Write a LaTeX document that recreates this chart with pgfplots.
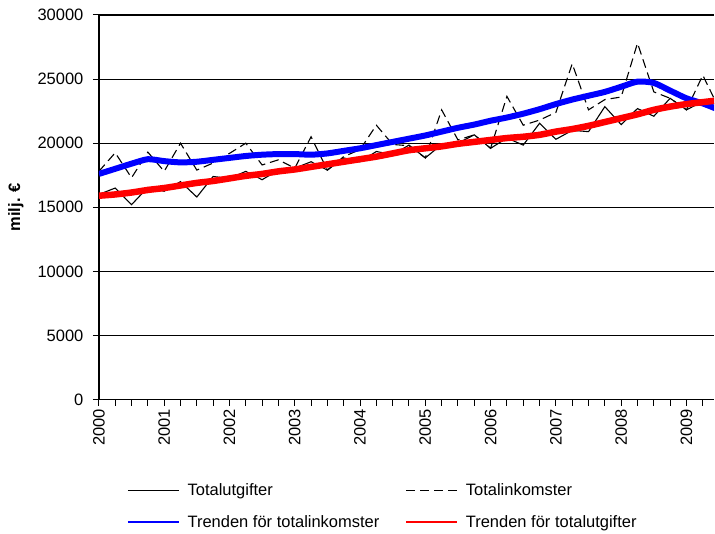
\documentclass[border=0pt]{standalone}
\usepackage{pgfplots}
\pgfplotsset{compat=1.18}
\usepackage{fontspec}
\setmainfont{Liberation Sans}
\newcommand{\chartfont}{\fontsize{16.5}{19}\selectfont}
\pgfplotsset{
  thinlegend/.style={legend image code/.code={\draw[##1, line width=#1] (0pt,0pt) -- (51pt,0pt);}},
}
\begin{document}
\begin{tikzpicture}
\begin{axis}[
  at={(0pt,0pt)}, anchor=south west,
  scale only axis, width=616pt, height=385pt,
  xmin=0, xmax=37.7, ymin=0, ymax=30000,
  axis lines*=left,
  axis line style={line width=1.6pt, black},
  xtick={0,...,38},
  xticklabels={2000,,,,2001,,,,2002,,,,2003,,,,2004,,,,2005,,,,2006,,,,2007,,,,2008,,,,2009,,,},
  ytick={0,5000,...,30000},
  tick align=outside, major tick length=6pt,
  tick style={black, line width=1pt},
  ymajorgrids, grid style={black, line width=1.1pt},
  scaled y ticks=false,
  /pgf/number format/assume math mode=true,
  yticklabel style={/pgf/number format/1000 sep={}, font=\chartfont, xshift=-6pt},
  xticklabel style={rotate=90, anchor=east, font=\chartfont},
  ylabel={\textbf{milj. €}},
  ylabel style={font=\chartfont, at={(axis description cs:-0.135,0.5)}, anchor=center},
  legend columns=2,
  legend cell align=left,
  legend style={at={(axis description cs:0.0455,-0.213)}, anchor=north west,
    draw=none, fill=none, inner sep=0pt, font=\chartfont,
    /tikz/every odd column/.append style={column sep=6pt},
    /tikz/every even column/.append style={column sep=24pt},
    row sep=14pt},
]
\addplot[black, line width=1.1pt, thinlegend=1.2pt]
table[x=i, y=v] {
i v
0 16000
1 16500
2 15200
3 16550
4 16250
5 17000
6 15800
7 17400
8 17250
9 17800
10 17150
11 17900
12 18050
13 18550
14 17900
15 18850
16 18550
17 19350
18 19100
19 19850
20 18850
21 19900
22 20000
23 20650
24 19600
25 20400
26 19850
27 21550
28 20300
29 21000
30 20900
31 22850
32 21450
33 22700
34 22100
35 23500
36 22600
37 23250
38 23000
};
\addlegendentry{Totalutgifter}
\addplot[black, line width=1.1pt, dash pattern=on 9pt off 5pt, thinlegend=1.2pt]
table[x=i, y=v] {
i v
0 17800
1 19250
2 17300
3 19300
4 17800
5 20000
6 17900
7 18450
8 19200
9 20000
10 18300
11 18700
12 18050
13 20500
14 17900
15 18950
16 19500
17 21400
18 19900
19 19800
20 18850
21 22600
22 20250
23 20650
24 19600
25 23650
26 21400
27 21800
28 22400
29 26200
30 22600
31 23400
32 23600
33 27800
34 24000
35 23500
36 22600
37 25300
38 22700
};
\addlegendentry{Totalinkomster}
\addplot[blue, line width=6pt, smooth, tension=0.4, thinlegend=1.6pt]
table[x=i, y=v] {
i v
0 17600
1 18000
2 18400
3 18750
4 18600
5 18500
6 18550
7 18700
8 18850
9 19000
10 19100
11 19150
12 19150
13 19100
14 19200
15 19400
16 19600
17 19850
18 20100
19 20350
20 20600
21 20900
22 21200
23 21450
24 21750
25 22000
26 22300
27 22650
28 23050
29 23400
30 23700
31 24000
32 24400
33 24800
34 24700
35 24100
36 23500
37 23100
38 22600
};
\addlegendentry{Trenden för totalinkomster}
\addplot[red, line width=6.5pt, smooth, tension=0.4, thinlegend=1.6pt]
table[x=i, y=v] {
i v
0 15900
1 16000
2 16150
3 16350
4 16500
5 16700
6 16900
7 17050
8 17250
9 17450
10 17600
11 17800
12 17950
13 18150
14 18350
15 18550
16 18750
17 18950
18 19200
19 19450
20 19600
21 19750
22 19950
23 20100
24 20250
25 20400
26 20500
27 20650
28 20900
29 21100
30 21350
31 21650
32 21950
33 22250
34 22600
35 22850
36 23050
37 23200
38 23350
};
\addlegendentry{Trenden för totalutgifter}
\end{axis}
\path[use as bounding box] (-99pt,-134pt) rectangle (616pt,400pt);
\end{tikzpicture}
\end{document}
